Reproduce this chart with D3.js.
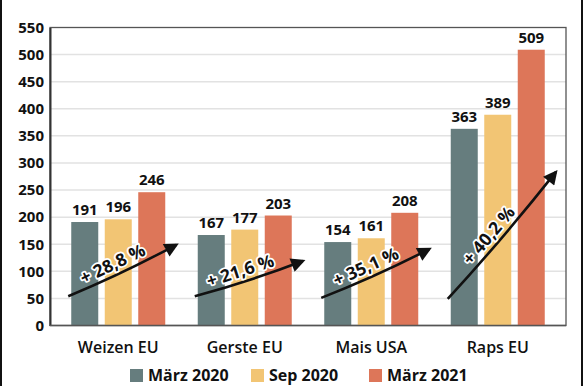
<!DOCTYPE html>
<html>
<head>
<meta charset="utf-8">
<script src="https://cdn.jsdelivr.net/npm/d3@7"></script>
<style>
  body { margin: 0; background: #fff; }
  svg { display: block; }
  text { font-family: "Open Sans", "Noto Sans", sans-serif; }
</style>
</head>
<body>
<svg id="chart" width="585" height="386"></svg>
<script>
// data
var categories = ["Weizen EU", "Gerste EU", "Mais USA", "Raps EU"];
var seriesNames = ["März 2020", "Sep 2020", "März 2021"];
var maerz2020 = [191, 167, 154, 363];
var sep2020 = [196, 177, 161, 389];
var maerz2021 = [246, 203, 208, 509];
var yTicks = [0, 50, 100, 150, 200, 250, 300, 350, 400, 450, 500, 550];
// arrow annotations, start/end in value units
var arrowFrom = [54, 54, 51, 49];
var arrowTo = [149, 119, 141, 283];

var colors = ["#667d7e", "#f2c574", "#dd7659"];
var seriesValues = [maerz2020, sep2020, maerz2021];

var svg = d3.select("#chart");
var plotL = 50, plotR = 566, plotT = 27.5, plotB = 325.5;

// outer border lines (left/right)
svg.append("line").attr("x1", 1).attr("x2", 1).attr("y1", 0).attr("y2", 386)
  .attr("stroke", "#111").attr("stroke-width", 2);
svg.append("line").attr("x1", 582).attr("x2", 582).attr("y1", 0).attr("y2", 386)
  .attr("stroke", "#111").attr("stroke-width", 2);

var y = d3.scaleLinear().domain([0, 550]).range([plotB, plotT]);
var x0 = d3.scaleBand().domain(categories).range([55, 561]);
var x1 = d3.scaleBand().domain(seriesNames).range([-47, 47]).paddingInner(0.194);

function cx(c){ return x0(c) + x0.bandwidth()/2; }

// grid
svg.append("g").selectAll("line").data(yTicks.filter(function(t){return t>0 && t<550;}))
  .enter().append("line")
  .attr("x1", plotL).attr("x2", plotR)
  .attr("y1", function(d){return y(d);}).attr("y2", function(d){return y(d);})
  .attr("stroke", "#e2e2e2").attr("stroke-width", 1.5);

// frame
svg.append("rect").attr("x", plotL).attr("y", plotT)
  .attr("width", plotR-plotL).attr("height", plotB-plotT)
  .attr("fill", "none").attr("stroke", "#555").attr("stroke-width", 1.3);

// y axis
var yAxis = d3.axisLeft(y).tickValues(yTicks).tickSize(0).tickPadding(6);
var ga = svg.append("g").attr("transform", "translate(" + plotL + ",0)").call(yAxis);
ga.select(".domain").attr("stroke", "#333").attr("stroke-width", 2);
ga.selectAll("text").attr("font-size", 15).attr("font-weight", 700).attr("fill", "#111")
  .attr("font-family", "'Open Sans', sans-serif");

// bars
var rows = [];
categories.forEach(function(c, i){
  seriesNames.forEach(function(s, j){
    rows.push({cat: c, ser: s, val: seriesValues[j][i], j: j});
  });
});

var bars = svg.append("g");
bars.selectAll("rect").data(rows).enter().append("rect")
  .attr("x", function(d){return cx(d.cat) + x1(d.ser);})
  .attr("y", function(d){return y(d.val);})
  .attr("width", x1.bandwidth())
  .attr("height", function(d){return y(0) - y(d.val);})
  .attr("fill", function(d){return colors[d.j];});

bars.selectAll("text").data(rows).enter().append("text")
  .attr("x", function(d){return cx(d.cat) + x1(d.ser) + x1.bandwidth()/2;})
  .attr("y", function(d){return y(d.val) - 7;})
  .attr("text-anchor", "middle")
  .attr("font-size", 15).attr("font-weight", 700).attr("fill", "#111")
  .text(function(d){return d.val;});

// bottom axis line on top of bars
svg.append("line").attr("x1", plotL).attr("x2", plotR).attr("y1", plotB).attr("y2", plotB)
  .attr("stroke", "#555").attr("stroke-width", 1.3);

// category labels
svg.append("g").selectAll("text").data(categories).enter().append("text")
  .attr("x", function(d){return cx(d);})
  .attr("y", 353)
  .attr("text-anchor", "middle")
  .attr("font-size", 16).attr("font-weight", 600).attr("fill", "#111")
  .text(function(d){return d;});

// arrows
svg.append("defs").append("marker")
  .attr("id", "head").attr("viewBox", "0 0 10 10")
  .attr("refX", 8).attr("refY", 5)
  .attr("markerWidth", 7).attr("markerHeight", 5.5)
  .attr("markerUnits", "strokeWidth")
  .attr("orient", "auto")
  .append("path").attr("d", "M0,0 L10,5 L0,10 z").attr("fill", "#111");

var ann = svg.append("g");
categories.forEach(function(c, i){
  var xs = cx(c) - 50, xe = cx(c) + 58;
  var ys = y(arrowFrom[i]), ye = y(arrowTo[i]);
  var dx = xe - xs, dy = ye - ys, len = Math.sqrt(dx*dx + dy*dy);
  // unit normal pointing up-left (away from the bend)
  var ux = dy/len, uy = -dx/len;
  if (uy > 0) { ux = -ux; uy = -uy; }
  var bend = 3;
  var qx = (xs+xe)/2 - ux*bend, qy = (ys+ye)/2 - uy*bend;
  ann.append("path")
    .attr("d", "M" + xs + "," + ys + " Q" + qx + "," + qy + " " + xe + "," + ye)
    .attr("fill", "none").attr("stroke", "#111").attr("stroke-width", 2.6)
    .attr("marker-end", "url(#head)");

  var pct = ((maerz2021[i] / maerz2020[i] - 1) * 100).toFixed(1).replace(".", ",");
  var ang = Math.atan2(dy, dx) * 180 / Math.PI;
  var t = 0.45;
  var tx = xs + dx*t + ux*10, ty = ys + dy*t + uy*10;
  ann.append("text")
    .attr("transform", "translate(" + tx + "," + ty + ") rotate(" + ang + ")")
    .attr("text-anchor", "middle").attr("dy", "0.35em")
    .attr("font-size", 17.5).attr("font-weight", 700)
    .attr("fill", "#111").attr("stroke", "#fff").attr("stroke-width", 3.5)
    .attr("paint-order", "stroke").attr("stroke-linejoin", "round")
    .text("+ " + pct + " %");
});

// legend
var legX = [130, 251, 369];
var leg = svg.append("g").selectAll("g").data(seriesNames).enter().append("g")
  .attr("transform", function(d, i){return "translate(" + legX[i] + ",369)";});
leg.append("rect").attr("width", 13).attr("height", 13)
  .attr("fill", function(d, i){return colors[i];});
leg.append("text").attr("x", 18).attr("y", 12)
  .attr("font-size", 16).attr("font-weight", 700).attr("fill", "#111")
  .text(function(d){return d;});
</script>
</body>
</html>
